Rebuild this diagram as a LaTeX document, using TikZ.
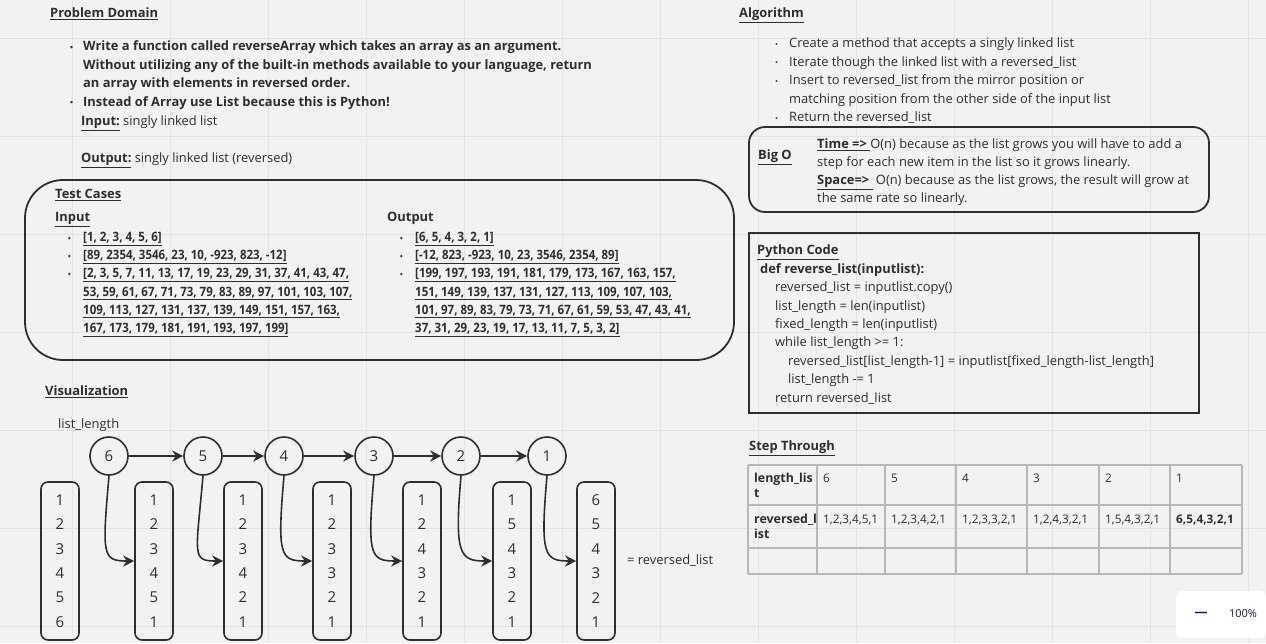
\documentclass[tikz,border=0pt]{standalone}
\usepackage{fontspec}
\setmainfont{Open Sans}
\newfontfamily\narrowfont{Open Sans}[FakeStretch=0.89]
\usetikzlibrary{arrows.meta}

\definecolor{board}{HTML}{F2F2F2}
\definecolor{gridgray}{HTML}{E3E3E3}
\definecolor{ink}{HTML}{2E2E2E}
\definecolor{cellgray}{HTML}{B8B8B8}
\definecolor{navy}{HTML}{1B1B4B}

\newcommand\bodyfont{\fontsize{12.9}{18.5}\selectfont}
\newcommand\numfont{\fontsize{15}{24.4}\selectfont}
\newcommand\hd[1]{\textbf{\underline{#1}}}
\newcommand\bul[1][12pt]{\makebox[#1][l]{\raisebox{0.5pt}{\fontsize{8}{8}\selectfont\textbullet}}}
\newcommand\ind[1][12pt]{\hspace*{#1}}

\begin{document}
\begin{tikzpicture}
	[x=1pt,y=-1pt,
	every node/.style={inner sep=0pt,text=ink},
	txt/.style={anchor=base west,align=left,font=\bodyfont},
	cases/.style={anchor=base west,align=left,font=\narrowfont\bfseries\fontsize{12.9}{18.2}\selectfont},
	cellfont/.style={anchor=base west,align=left,font=\fontsize{11.8}{15}\selectfont},
	headfont/.style={anchor=base west,align=left,font=\fontsize{12.4}{15}\selectfont\bfseries},
	frame/.style={draw=ink,line width=1.8pt},
	bubble/.style={circle,draw=ink,line width=1.6pt,minimum size=38pt,font=\numfont},
	stack/.style={draw=ink,line width=1.6pt,rounded corners=7pt,minimum width=38pt,minimum height=158pt,align=center,font=\numfont},
	link/.style={draw=ink,line width=1.6pt,-{Stealth[length=11pt,width=11pt]}},
	gridline/.style={draw=gridgray,line width=0.8pt},
	cell/.style={draw=cellgray,line width=1.2pt}]
	\fill[board] (0,0) rectangle (1266,643);
	\useasboundingbox (0,0) rectangle (1266,643);
	\foreach \x in {72,170,...,1248}
	\draw[gridline] (\x,0) -- (\x,643);
	\foreach \y in {38,136,...,626}
	\draw[gridline] (0,\y) -- (1266,\y);

	% problem domain (multi-line nodes sit on their last baseline)
	\node[txt] (pdTitle) at (50,17.5) {\hd{Problem Domain}};
	\node[txt,font=\bodyfont\bfseries] (pdList) at (70,106) {\bul[13pt]Write a function called reverseArray which takes an array as an argument.\\
		\ind[13pt]Without utilizing any of the built-in methods available to your language, return\\
		\ind[13pt]an array with elements in reversed order.\\
		\bul[13pt]Instead of Array use List because this is Python!};
	\node[txt] (pdIn) at (81,125.5) {\hd{Input:} singly linked list};
	\node[txt] (pdOut) at (81,162.5) {\hd{Output:} singly linked list (reversed)};

	% test cases
	\draw[frame,rounded corners=38pt] (25,180) rectangle (734,360);
	\node[txt] (tcTitle) at (55,198.5) {\hd{Test Cases}};
	\node[txt] (tcIn) at (55,221.5) {\hd{Input}};
	\node[txt] (tcOut) at (387,221.5) {\textbf{Output}};
	\node[cases] (tcInList) at (68,332.5) {\bul[15pt]\underline{[1, 2, 3, 4, 5, 6]}\\
		\bul[15pt]\underline{[89, 2354, 3546, 23, 10, -923, 823, -12]}\\
		\bul[15pt]\underline{[2, 3, 5, 7, 11, 13, 17, 19, 23, 29, 31, 37, 41, 43, 47,}\\
		\ind[15pt]\underline{53, 59, 61, 67, 71, 73, 79, 83, 89, 97, 101, 103, 107,}\\
		\ind[15pt]\underline{109, 113, 127, 131, 137, 139, 149, 151, 157, 163,}\\
		\ind[15pt]\underline{167, 173, 179, 181, 191, 193, 197, 199]}};
	\node[cases] (tcOutList) at (400,332.5) {\bul[15pt]\underline{[6, 5, 4, 3, 2, 1]}\\
		\bul[15pt]\underline{[-12, 823, -923, 10, 23, 3546, 2354, 89]}\\
		\bul[15pt]\underline{[199, 197, 193, 191, 181, 179, 173, 167, 163, 157,}\\
		\ind[15pt]\underline{151, 149, 139, 137, 131, 127, 113, 109, 107, 103,}\\
		\ind[15pt]\underline{101, 97, 89, 83, 79, 73, 71, 67, 61, 59, 53, 47, 43, 41,}\\
		\ind[15pt]\underline{37, 31, 29, 23, 19, 17, 13, 11, 7, 5, 3, 2]}};

	% visualization
	\node[txt] (visTitle) at (45,395.5) {\hd{Visualization}};
	\node[txt] (visLabel) at (58,428.5) {list\_length};
	\foreach \v/\x in {6/109,5/203,4/284,3/374,2/461,1/547}
	\node[bubble] (c\v) at (\x,456) {\v};
	\foreach \i/\x/\items in {1/60/{1\\2\\3\\4\\5\\6},2/154/{1\\2\\3\\4\\5\\1},3/243/{1\\2\\3\\4\\2\\1},4/332/{1\\2\\3\\3\\2\\1},5/422/{1\\2\\4\\3\\2\\1},6/512/{1\\5\\4\\3\\2\\1},7/596/{6\\5\\4\\3\\2\\1}}
	\node[stack] (b\i) at (\x,561) {\items};
	\foreach \from/\to in {c6/c5,c5/c4,c4/c3,c3/c2,c2/c1}
	\draw[link] (\from) -- (\to);
	\foreach \from/\to in {c6/b2,c5/b3,c4/b4,c3/b5,c2/b6,c1/b7}
	\draw[link] (\from.south) .. controls +(-7,80) and +(-32,0) .. (\to.west);
	\node[txt] (visResult) at (627,564.5) {= reversed\_list};

	% algorithm
	\node[txt] (algTitle) at (739,17.5) {\hd{Algorithm}};
	\node[txt] (algList) at (775,121.5) {\bul[14pt]Create a method that accepts a singly linked list\\
		\bul[14pt]Iterate though the linked list with a reversed\_list\\
		\bul[14pt]Insert to reversed\_list from the mirror position or\\
		\ind[14pt]matching position from the other side of the input list\\
		\bul[14pt]Return the reversed\_list};

	% big o
	\draw[frame,rounded corners=16pt] (749,127) rectangle (1209,212);
	\node[txt] (boTitle) at (758,159.5) {\hd{Big O}};
	\node[txt,font=\fontsize{12.9}{18}\selectfont] (boText) at (817,202.5) {\hd{Time =>\ }O(n) because as the list grows you will have to add a\\
		step for each new item in the list so it grows linearly.\\
		\hd{Space=>\ } O(n) because as the list grows, the result will grow at\\
		the same rate so linearly.};

	% python code
	\draw[frame] (749,233) rectangle (1199,413);
	\node[txt] (pyTitle) at (757,254.5) {\hd{Python Code}};
	\node[txt,font=\fontsize{12.9}{18.4}\selectfont] (pyCode) at (760,402) {\textbf{def reverse\_list(inputlist):}\\
		\hspace*{15pt}reversed\_list = inputlist.copy()\\
		\hspace*{15pt}list\_length = len(inputlist)\\
		\hspace*{15pt}fixed\_length = len(inputlist)\\
		\hspace*{15pt}while list\_length >= 1:\\
		\hspace*{28pt}reversed\_list[list\_length-1] = inputlist[fixed\_length-list\_length]\\
		\hspace*{28pt}list\_length -= 1\\
		\hspace*{15pt}return reversed\_list};

	% step through
	\node[txt] (stTitle) at (749,450.5) {\hd{Step Through}};
	\foreach \x in {748,817,885,956,1027,1099,1170,1242}
	\draw[cell] (\x,465) -- (\x,574);
	\foreach \y in {465,505,548,574}
	\draw[cell] (748,\y) -- (1242,\y);
	\node[headfont] (lenHead) at (754,497) {length\_lis\\t};
	\node[headfont] (revHead) at (754,538) {reversed\_l\\ist};
	\foreach \x/\n/\r in {823/6/{1,2,3,4,5,1},891/5/{1,2,3,4,2,1},962/4/{1,2,3,3,2,1},1033/3/{1,2,4,3,2,1},1105/2/{1,5,4,3,2,1},1176/1/{\textbf{6,5,4,3,2,1}}}
	{
		\node[cellfont] (len\n) at (\x,482) {\n};
		\node[cellfont] (rev\n) at (\x,523) {\r};
	}

	% zoom badge
	\fill[white,rounded corners=5pt] (1176,591) rectangle (1266,638);
	\node[text=navy,font=\fontsize{13}{13}\selectfont\bfseries] (zoomMinus) at (1201,614) {—};
	\node[text=navy,font=\fontsize{11}{12}\selectfont] (zoomPct) at (1243,614) {100\%};
\end{tikzpicture}
\end{document}
